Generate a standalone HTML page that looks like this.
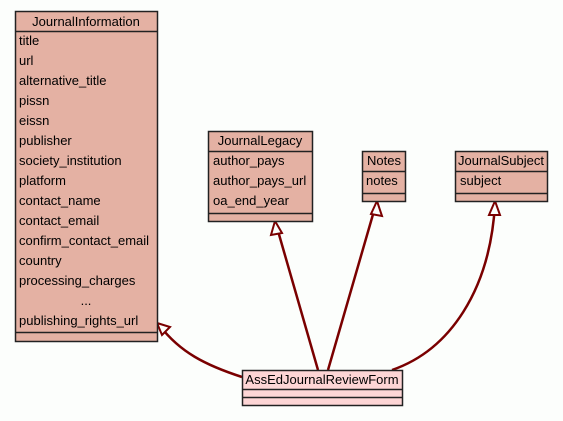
<!DOCTYPE html>
<html><head><style>
body{margin:0;background:#fcfefc;}
svg text{font-family:"Liberation Sans",sans-serif;font-size:13px;fill:#000;}
</style></head><body>
<svg width="563" height="416" xmlns="http://www.w3.org/2000/svg">
<rect width="563" height="416" fill="#fcfefc"/>
<g stroke="#7a0000" stroke-width="2.5" fill="none">
<path d="M242,377 C205,365 180,352 160,326"/>
<path d="M318,370 L276,224"/>
<path d="M328,370 L376,204"/>
<path d="M392,370 C450,350 490,290 495,204"/>
</g>
<g fill="#fcfefc" stroke="#7a0000" stroke-width="2">
<polygon points="157,323 170,327 162,335"/>
<polygon points="275,221 271,235 282,233"/>
<polygon points="377,201 371,214 382,216"/>
<polygon points="495,201 489,215 500,215"/>
</g>
<g stroke="#222" stroke-width="1.5" fill="#e4b1a3">
<rect x="15.5" y="11.5" width="142" height="330"/>
<line x1="15" y1="31.5" x2="158" y2="31.5"/>
<line x1="15" y1="332.5" x2="158" y2="332.5"/>
<rect x="208.5" y="131.5" width="104" height="90"/>
<line x1="208" y1="151.5" x2="313" y2="151.5"/>
<line x1="208" y1="213.5" x2="313" y2="213.5"/>
<rect x="362.5" y="151.5" width="43" height="50"/>
<line x1="362" y1="171.5" x2="406" y2="171.5"/>
<line x1="362" y1="193.5" x2="406" y2="193.5"/>
<rect x="455.5" y="151.5" width="92" height="50"/>
<line x1="455" y1="171.5" x2="548" y2="171.5"/>
<line x1="455" y1="193.5" x2="548" y2="193.5"/>
</g>
<g stroke="#222" stroke-width="1.5" fill="#fdd5d5">
<rect x="242.5" y="370.5" width="160" height="35"/>
<line x1="242" y1="389.5" x2="403" y2="389.5"/>
<line x1="242" y1="397.5" x2="403" y2="397.5"/>
</g>
<text x="86" y="26" text-anchor="middle">JournalInformation</text>
<g>
<text x="19" y="45">title</text>
<text x="19" y="65">url</text>
<text x="19" y="85">alternative_title</text>
<text x="19" y="105">pissn</text>
<text x="19" y="125">eissn</text>
<text x="19" y="145">publisher</text>
<text x="19" y="165">society_institution</text>
<text x="19" y="185">platform</text>
<text x="19" y="205">contact_name</text>
<text x="19" y="225">contact_email</text>
<text x="19" y="245">confirm_contact_email</text>
<text x="19" y="265">country</text>
<text x="19" y="285">processing_charges</text>
<text x="86" y="305" text-anchor="middle">...</text>
<text x="19" y="325">publishing_rights_url</text>
</g>
<text x="260" y="145" text-anchor="middle">JournalLegacy</text>
<text x="213" y="165">author_pays</text>
<text x="213" y="185">author_pays_url</text>
<text x="213" y="205">oa_end_year</text>
<text x="384" y="165" text-anchor="middle">Notes</text>
<text x="366" y="185">notes</text>
<text x="501" y="165" text-anchor="middle">JournalSubject</text>
<text x="460" y="185">subject</text>
<text x="322" y="384" text-anchor="middle">AssEdJournalReviewForm</text>
</svg>
</body></html>
